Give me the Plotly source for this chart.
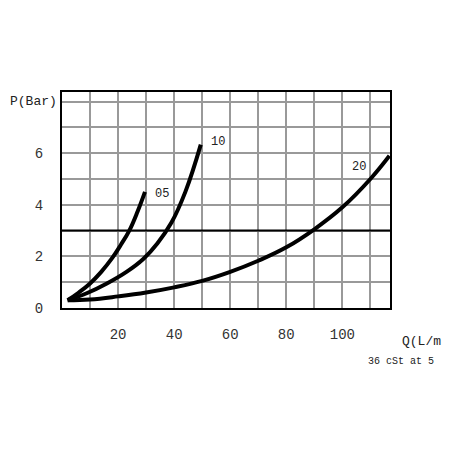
import plotly.graph_objects as go

x05 = [2, 6, 10, 14, 18, 21, 24, 27, 29.6]
y05 = [0.3, 0.6, 0.95, 1.4, 1.95, 2.45, 3.0, 3.75, 4.5]
x10 = [2, 9, 16, 23, 29, 34, 39, 44, 49.5]
y10 = [0.3, 0.58, 0.95, 1.4, 1.9, 2.5, 3.3, 4.5, 6.33]
x20 = [2, 10, 20, 30, 40, 50, 60, 70, 80, 90, 100, 110, 116.8]
y20 = [0.3, 0.33, 0.45, 0.6, 0.8, 1.05, 1.4, 1.83, 2.35, 3.05, 3.9, 5.0, 5.9]
curve_labels = [("05", 35.5, 4.4), ("10", 55.5, 6.45), ("20", 106, 5.45)]
xticks = [20, 40, 60, 80, 100]
yticks = [0, 2, 4, 6]
ref_level = 3

F = "Liberation Mono"
fig = go.Figure()
for xs, ys in [(x05, y05), (x10, y10), (x20, y20)]:
    fig.add_trace(go.Scatter(x=xs, y=ys, mode="lines",
                             line=dict(color="black", width=4, shape="spline", smoothing=1.2)))
fig.add_trace(go.Scatter(x=[0, 117], y=[ref_level, ref_level], mode="lines", line=dict(color="black", width=2)))
for t, x, y in curve_labels:
    fig.add_annotation(x=x, y=y, text=t, showarrow=False, font=dict(family=F, size=12, color="#222"))
fig.add_annotation(x=0, y=1, xref="paper", yref="paper", xshift=-54, text="P(Bar)", showarrow=False,
                   xanchor="left", yanchor="middle", yshift=-9, font=dict(family=F, size=13, color="#222"))
fig.add_annotation(x=1, y=0, xref="paper", yref="paper", xshift=10, yshift=-24, text="Q(L/m", showarrow=False,
                   xanchor="left", yanchor="top", font=dict(family=F, size=13, color="#222"))
fig.add_annotation(x=1, y=0, xref="paper", yref="paper", xshift=-24, yshift=-46, text="36 cSt at 5", showarrow=False,
                   xanchor="left", yanchor="top", font=dict(family=F, size=10, color="#222"))
fig.update_layout(width=452, height=452, margin=dict(l=54, r=70, t=84, b=152), showlegend=False,
                  plot_bgcolor="white", paper_bgcolor="white")
fig.update_xaxes(range=[0, 117], tickvals=xticks, showgrid=True, gridcolor="#999", gridwidth=2,
                 minor=dict(dtick=10, tick0=0, showgrid=True, gridcolor="#999", gridwidth=2),
                 showline=True, linecolor="black", linewidth=2, mirror=True, zeroline=False,
                 ticks="", ticklabelstandoff=12, tickfont=dict(family=F, size=14, color="#333"))
fig.update_yaxes(range=[0, 8.37], tickvals=yticks, showgrid=True, gridcolor="#999", gridwidth=2,
                 minor=dict(dtick=1, tick0=0, showgrid=True, gridcolor="#999", gridwidth=2),
                 showline=True, linecolor="black", linewidth=2, mirror=True, zeroline=False,
                 ticks="", ticklabelstandoff=14, tickfont=dict(family=F, size=14, color="#333"))
fig.write_html("out.html")
